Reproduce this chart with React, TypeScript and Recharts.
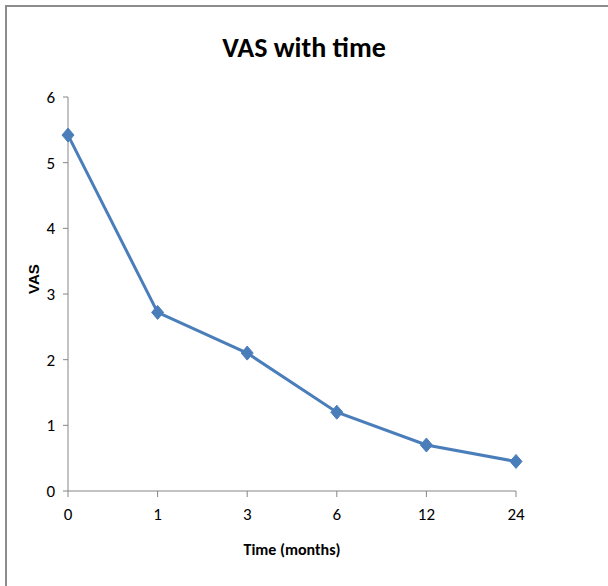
import { LineChart, Line, XAxis, YAxis } from "recharts";

const months = ["0", "1", "3", "6", "12", "24"];
const vasScores = [5.42, 2.72, 2.1, 1.2, 0.7, 0.45];
const yTicks = [0, 1, 2, 3, 4, 5, 6];

const data = months.map((m, i) => ({ month: m, vas: vasScores[i] }));

const font = "Carlito, 'Liberation Sans Narrow', 'DejaVu Sans Condensed', sans-serif";

function Diamond(props: any) {
  const { cx, cy } = props;
  if (cx == null || cy == null) return null;
  const r = 7;
  return (
    <polygon
      points={`${cx},${cy - r} ${cx + r - 1},${cy} ${cx},${cy + r} ${cx - r + 1},${cy}`}
      fill="#4A7EBB"
      stroke="#4A7EBB"
      strokeWidth={1}
    />
  );
}

export default function App() {
  return (
    <div style={{ position: "fixed", left: 0, top: 0, width: 608, height: 586, overflow: "hidden", background: "#fff" }}>
      <div
        style={{
          position: "absolute",
          left: 5,
          top: 5,
          width: 640,
          height: 640,
          border: "2px solid #8c8c8c",
        }}
      />
      <div
        style={{
          position: "absolute",
          left: 0,
          top: 30,
          width: 608,
          textAlign: "center",
          fontFamily: font,
          fontWeight: "bold",
          fontSize: 28,
          color: "#000",
        }}
      >
        VAS with time
      </div>
      <div style={{ position: "absolute", left: 0, top: 0 }}>
        <LineChart width={608} height={586} data={data} margin={{ top: 97, right: 92, bottom: 31, left: 38 }}>
          <XAxis
            dataKey="month"
            height={64}
            axisLine={{ stroke: "#868686" }}
            tickLine={{ stroke: "#868686" }}
            tickSize={6}
            tickMargin={11}
            tick={{ fill: "#000", fontSize: 17, fontFamily: font }}
            label={{
              value: "Time (months)",
              position: "insideBottom",
              offset: 0,
              fill: "#000",
              fontSize: 16,
              fontWeight: "bold",
              fontFamily: font,
            }}
          />
          <YAxis
            width={30}
            domain={[0, 6]}
            ticks={yTicks}
            axisLine={{ stroke: "#868686" }}
            tickLine={{ stroke: "#868686" }}
            tickSize={5}
            tickMargin={8}
            tick={{ fill: "#000", fontSize: 17, fontFamily: font }}
            label={{
              value: "VAS",
              angle: -90,
              position: "insideLeft",
              offset: -4,
              fill: "#000",
              fontSize: 15,
              fontWeight: "bold",
              fontFamily: "'Liberation Sans', Arial, sans-serif",
            }}
          />
          <Line
            type="linear"
            dataKey="vas"
            stroke="#4A7EBB"
            strokeWidth={3}
            dot={<Diamond />}
            activeDot={false}
            isAnimationActive={false}
          />
        </LineChart>
      </div>
    </div>
  );
}
